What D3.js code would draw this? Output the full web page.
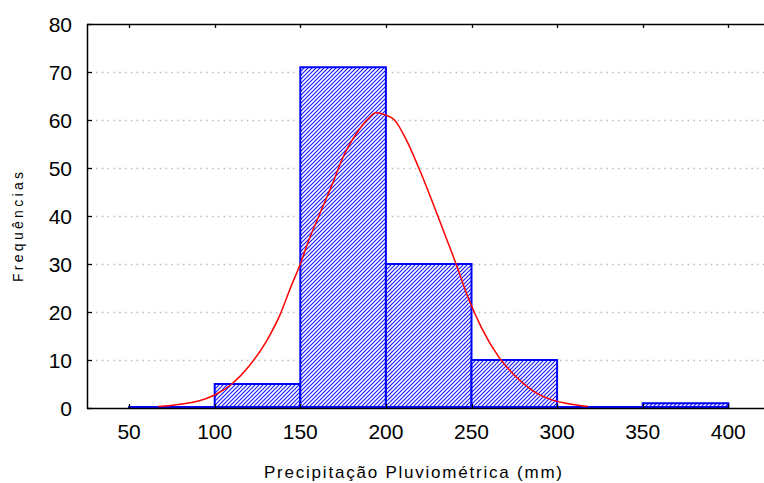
<!DOCTYPE html>
<html>
<head>
<meta charset="utf-8">
<script src="https://cdn.jsdelivr.net/npm/d3@7"></script>
<style>
  body { margin: 0; background: #fff; }
  text { font-family: "Liberation Sans", Arial, sans-serif; fill: #000; }
</style>
</head>
<body>
<div id="chart"></div>
<script>
// histogram bins (start of each 50 mm class) and frequencies
var binStart = [50, 100, 150, 200, 250, 300, 350];
var binFreq = [0, 5, 71, 30, 10, 0, 1];
var binWidth = 50;

// fitted normal curve
var curveX = [67, 80, 90, 100, 110, 120, 130, 138, 144, 150, 155, 162, 169, 175, 183, 190, 194, 200, 205, 212, 219, 226, 233, 241, 248, 256, 266, 276, 285, 297, 305, 318];
var curveY = [0.3, 0.8, 1.4, 2.7, 5.0, 8.7, 13.8, 19.3, 24.8, 30, 35, 41, 46.9, 52.3, 57.3, 60.4, 61.5, 61.0, 60.0, 55.8, 50.2, 44, 37.5, 30, 23, 16.6, 10.6, 6.5, 3.8, 1.7, 1.0, 0.3];

var xTicks = [50, 100, 150, 200, 250, 300, 350, 400];
var yTicks = [0, 10, 20, 30, 40, 50, 60, 70, 80];

var width = 764, height = 483;
var plotLeft = 87, plotTop = 24, plotBottom = 408;

var svg = d3.select('#chart').append('svg')
    .attr('width', width)
    .attr('height', height);

var x = d3.scaleLinear().domain([25, 425]).range([86.3, 86.3 + 400 * 1.712]);
var y = d3.scaleLinear().domain([0, 80]).range([plotBottom, plotTop]);

// hatch pattern for the bars
var pat = svg.append('defs').append('pattern')
    .attr('id', 'hatch')
    .attr('patternUnits', 'userSpaceOnUse')
    .attr('width', 4)
    .attr('height', 4);
pat.append('rect').attr('width', 4).attr('height', 4).attr('fill', '#fff');
pat.append('path')
    .attr('d', 'M-1,1 l2,-2 M0,4 l4,-4 M3,5 l2,-2')
    .attr('stroke', '#1a1aff')
    .attr('stroke-width', 1.2);

// dotted grid
svg.append('g').selectAll('line')
    .data(yTicks.filter(function(d) { return d > 0 && d < 80; }))
    .enter().append('line')
    .attr('x1', plotLeft + 9)
    .attr('x2', width)
    .attr('y1', function(d) { return Math.round(y(d)) + 0.5; })
    .attr('y2', function(d) { return Math.round(y(d)) + 0.5; })
    .attr('stroke', '#b8b8b8')
    .attr('stroke-width', 1.3)
    .attr('stroke-dasharray', '1.5,4.3');

// bars
svg.append('g').selectAll('path')
    .data(binStart)
    .enter().append('path')
    .attr('d', function(d, i) {
        var x0 = x(d), x1 = x(d + binWidth), y0 = y(0) - 1, y1 = y(binFreq[i]);
        return 'M' + x0 + ',' + y0 + 'V' + y1 + 'H' + x1 + 'V' + y0 + 'Z';
    })
    .attr('fill', 'url(#hatch)')
    .attr('stroke', '#0000ff')
    .attr('stroke-width', 2);

// normal curve
var line = d3.line()
    .x(function(d) { return x(d); })
    .y(function(d, i) { return y(curveY[i]); })
    .curve(d3.curveMonotoneX);

svg.append('path')
    .datum(curveX)
    .attr('d', line)
    .attr('fill', 'none')
    .attr('stroke', '#ff0000')
    .attr('stroke-width', 1.5);

// frame: left, bottom, top
svg.append('line').attr('x1', plotLeft + 0.5).attr('x2', plotLeft + 0.5).attr('y1', plotTop).attr('y2', plotBottom + 1)
    .attr('stroke', '#000').attr('stroke-width', 1.5);
svg.append('line').attr('x1', plotLeft).attr('x2', width).attr('y1', plotBottom + 0.5).attr('y2', plotBottom + 0.5)
    .attr('stroke', '#000').attr('stroke-width', 1.5);
svg.append('line').attr('x1', plotLeft).attr('x2', width).attr('y1', plotTop + 0.5).attr('y2', plotTop + 0.5)
    .attr('stroke', '#000').attr('stroke-width', 1.5);

// y ticks and labels
var yAxis = svg.append('g');
yAxis.selectAll('line')
    .data(yTicks)
    .enter().append('line')
    .attr('x1', plotLeft)
    .attr('x2', plotLeft + 5)
    .attr('y1', function(d) { return Math.round(y(d)) + 0.5; })
    .attr('y2', function(d) { return Math.round(y(d)) + 0.5; })
    .attr('stroke', '#000')
    .attr('stroke-width', 1.3);
yAxis.selectAll('text')
    .data(yTicks)
    .enter().append('text')
    .attr('x', 72)
    .attr('y', function(d) { return y(d) + 8; })
    .attr('text-anchor', 'end')
    .style('font-size', '21px')
    .text(function(d) { return d; });

// x ticks (bottom up, top down) and labels
var xAxis = svg.append('g');
xAxis.selectAll('line.b')
    .data(xTicks)
    .enter().append('line')
    .attr('class', 'b')
    .attr('x1', function(d) { return Math.round(x(d)) + 0.5; })
    .attr('x2', function(d) { return Math.round(x(d)) + 0.5; })
    .attr('y1', plotBottom)
    .attr('y2', plotBottom - 4)
    .attr('stroke', '#000')
    .attr('stroke-width', 1.3);
xAxis.selectAll('line.t')
    .data(xTicks)
    .enter().append('line')
    .attr('class', 't')
    .attr('x1', function(d) { return Math.round(x(d)) + 0.5; })
    .attr('x2', function(d) { return Math.round(x(d)) + 0.5; })
    .attr('y1', plotTop)
    .attr('y2', plotTop + 4)
    .attr('stroke', '#000')
    .attr('stroke-width', 1.3);
xAxis.selectAll('text')
    .data(xTicks)
    .enter().append('text')
    .attr('x', function(d) { return x(d); })
    .attr('y', 439)
    .attr('text-anchor', 'middle')
    .style('font-size', '21px')
    .text(function(d) { return d; });

// axis titles
svg.append('text')
    .attr('x', 264)
    .attr('y', 478)
    .attr('textLength', 298)
    .attr('lengthAdjust', 'spacing')
    .style('font-size', '17px')
    .text('Precipitação Pluviométrica (mm)');

svg.append('text')
    .attr('transform', 'translate(23,282)rotate(-90)')
    .attr('textLength', 110)
    .attr('lengthAdjust', 'spacing')
    .style('font-size', '14px')
    .text('Frequências');
</script>
</body>
</html>
